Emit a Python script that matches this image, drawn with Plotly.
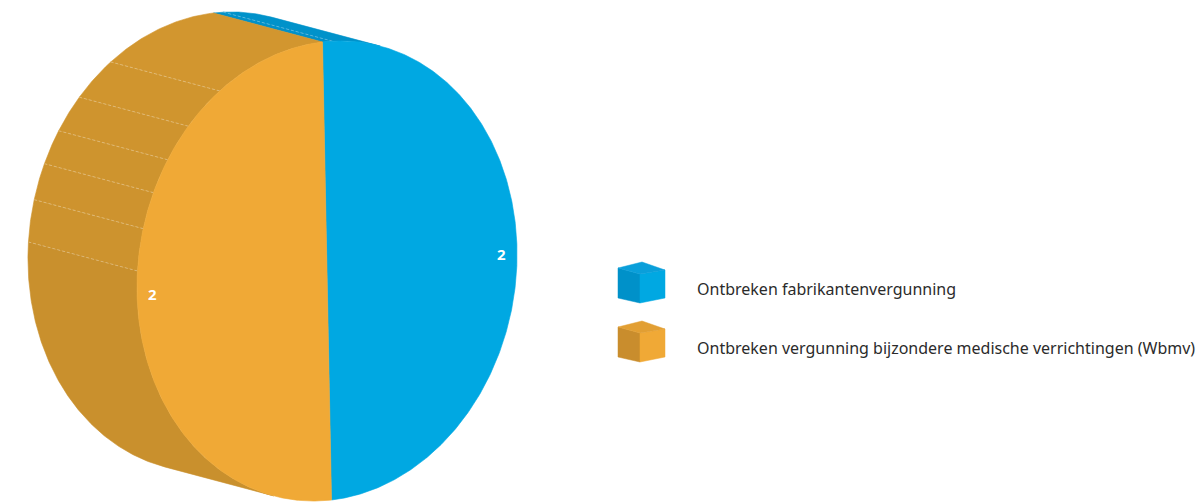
import numpy as np
import plotly.graph_objects as go

# ---- data -------------------------------------------------------------
categories = [
    "Ontbreken fabrikantenvergunning",
    "Ontbreken vergunning bijzondere medische verrichtingen (Wbmv)",
]
values = [2, 2]

# ---- styling ----------------------------------------------------------
face_colors = ["#00a8e2", "#f0a936"]
side_colors = ["#0091c9", "#d3972f"]
top_colors = ["#0a9fda", "#e29f33"]
FONT = "Noto Sans"

W, H = 1202, 502

# Projected cylinder geometry (pixel space, y grows downward)
CENTER = np.array([327.0, 271.0])
AXIS_A = np.array([190.0, -22.0])   # towards 3 o'clock
AXIS_B = np.array([-4.5, -229.0])   # towards 12 o'clock
DEPTH = np.array([-109.0, -29.0])   # front face -> back face
FACET_EDGES = [87.0, 123.0, 135.5, 145.6, 154.6, 163.9, 174.5]


def rim(t_deg, r=1.0):
    t = np.radians(np.asarray(t_deg, dtype=float))
    return (CENTER[None, :]
            + r * np.cos(t)[:, None] * AXIS_A[None, :]
            + r * np.sin(t)[:, None] * AXIS_B[None, :])


def arc(t0, t1, step=1.0):
    n = max(2, int(abs(t1 - t0) / step) + 1)
    return np.linspace(t0, t1, n)


def cross(u, v):
    return u[0] * v[1] - u[1] * v[0]


def shade(hex_color, f):
    h = hex_color.lstrip("#")
    rgb = [int(h[i:i + 2], 16) for i in (0, 2, 4)]
    return "rgb({},{},{})".format(*[int(round(c * f)) for c in rgb])


# silhouette tangents: side wall is visible between these two angles
t_tan = np.degrees(np.arctan2(cross(AXIS_B, DEPTH), cross(AXIS_A, DEPTH)))
vis_lo = t_tan % 180.0
vis_hi = vis_lo + 180.0

# slice angles: start at 12 o'clock and run clockwise
total = float(sum(values))
bounds = []
acc = 0.0
for v in values:
    hi = 90.0 - 360.0 * acc / total
    lo = 90.0 - 360.0 * (acc + v) / total
    bounds.append((lo, hi))
    acc += v

fig = go.Figure()


def add_poly(pts, color, line_color=None, width=0):
    pts = np.vstack([pts, pts[:1]])
    fig.add_trace(go.Scatter(
        x=pts[:, 0], y=pts[:, 1], mode="lines", fill="toself",
        fillcolor=color,
        line=dict(color=line_color or color, width=width),
        hoverinfo="skip", showlegend=False))


# ---- side wall --------------------------------------------------------
for i, (lo, hi) in enumerate(bounds):
    for k in (-360.0, 0.0, 360.0):
        a = max(lo + k, vis_lo)
        b = min(hi + k, vis_hi)
        if b <= a:
            continue
        cuts = [a] + [e for e in FACET_EDGES if a < e < b] + [b]
        for s0, s1 in zip(cuts[:-1], cuts[1:]):
            ts = arc(s0, s1, 0.5)
            front = rim(ts)
            back = front[::-1] + DEPTH
            mid = 0.5 * (s0 + s1)
            f = 1.0 - 0.06 * (mid - 90.0) / 160.0
            add_poly(np.vstack([front, back]), shade(side_colors[i], f),
                     width=0.6)
        for e in FACET_EDGES:
            if a < e < b:
                p = rim([e])[0]
                q = p + DEPTH
                fig.add_trace(go.Scatter(
                    x=[p[0], q[0]], y=[p[1], q[1]], mode="lines",
                    line=dict(color="rgba(255,255,255,0.4)", width=0.8,
                              dash="3px,2px"),
                    hoverinfo="skip", showlegend=False))

# ---- front face -------------------------------------------------------
for i, (lo, hi) in enumerate(bounds):
    pts = np.vstack([CENTER[None, :], rim(arc(hi, lo, 0.5))])
    add_poly(pts, face_colors[i], width=0.6)

# value labels
for i, (lo, hi) in enumerate(bounds):
    p = rim([(lo + hi) / 2.0], r=0.92)[0]
    fig.add_annotation(x=p[0], y=p[1] + 3, text="<b>%g</b>" % values[i],
                       showarrow=False, xanchor="center", yanchor="middle",
                       font=dict(family=FONT, size=15, color="white"))

# ---- legend -----------------------------------------------------------
LEG_X, LEG_Y0, LEG_DY = 618.0, 265.0, 59.0
for i, name in enumerate(categories):
    ox, oy = LEG_X, LEG_Y0 + i * LEG_DY
    o = np.array([ox, oy])
    top = np.array([[0, 3], [24, -3], [47, 5], [22, 9]]) + o
    left = np.array([[0, 3], [22, 9], [22, 38], [0, 33]]) + o
    right = np.array([[22, 9], [47, 5], [47, 33], [22, 38]]) + o
    add_poly(left, side_colors[i] if i == 0 else "#c98d2d", width=0.5)
    add_poly(right, face_colors[i], width=0.5)
    add_poly(top, top_colors[i], width=0.5)
    fig.add_annotation(x=695, y=oy + 24, text=name, showarrow=False,
                       xanchor="left", yanchor="middle",
                       font=dict(family=FONT, size=16, color="#2b2b2b"))

fig.update_layout(
    width=W, height=H,
    margin=dict(l=0, r=0, t=0, b=0),
    paper_bgcolor="white", plot_bgcolor="white",
    xaxis=dict(range=[0, W], visible=False, fixedrange=True),
    yaxis=dict(range=[H, 0], visible=False, fixedrange=True),
    showlegend=False,
)

fig.write_html("out.html")
